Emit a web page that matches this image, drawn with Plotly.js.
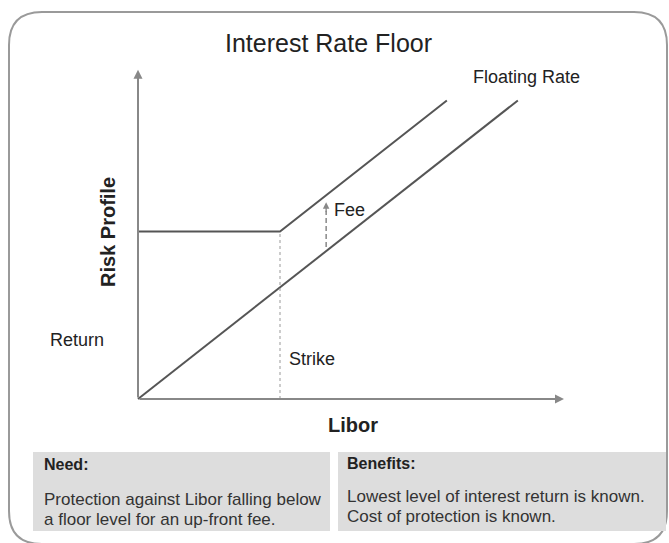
<!DOCTYPE html>
<html>
<head>
<meta charset="utf-8">
<script src="https://cdn.plot.ly/plotly-3.0.1.min.js"></script>
<style>html,body{margin:0;padding:0;background:#fff;}#chart{width:669px;height:543px;}</style>
</head>
<body>
<div id="chart"></div>
<script>
// ---- data (arbitrary units: Libor on x, rate on y) ----
const floatingLibor = [0, 10.7];
const floatingRate = [0, 10.7];
const floorLibor = [0, 4, 8.7];
const floorRate = [6, 6, 10.7];
const strikeLibor = [4, 4];
const strikeRate = [0, 6];
const feeLibor = [5.3, 5.3];
const feeRate = [5.45, 6.75];
const feeTip = 7.05;
const xAxisEnd = 12.0;
const yAxisEnd = 11.8;

// ---- pixel helpers for paper-positioned items ----
const W = 669, H = 543;
const px = x => x / W;
const py = y => 1 - y / H;
const FONT = 'Liberation Sans, Arial, sans-serif';

const lineColor = '#555555';
const axisColor = '#888888';

const traces = [
  {x: floatingLibor, y: floatingRate, mode: 'lines', line: {color: lineColor, width: 2}, hoverinfo: 'skip'},
  {x: floorLibor, y: floorRate, mode: 'lines', line: {color: lineColor, width: 2}, hoverinfo: 'skip'},
  {x: strikeLibor, y: strikeRate, mode: 'lines', line: {color: '#999999', width: 1, dash: 'dot'}, hoverinfo: 'skip'},
  {x: feeLibor, y: feeRate, mode: 'lines', line: {color: '#888888', width: 1.5, dash: '5px,3px'}, hoverinfo: 'skip'}
];

function txt(text, x, y, size, opts, color) {
  return Object.assign({
    text: text, xref: 'paper', yref: 'paper', x: px(x), y: py(y),
    xanchor: 'center', yanchor: 'middle', showarrow: false,
    font: {family: FONT, size: size, color: color || '#222222'}
  }, opts || {});
}

// rounded outer frame
const L = 9, T = 12, R = 667, B = 544, r = 33;
const frame = 'M ' + px(L + r) + ',' + py(T) +
  ' L ' + px(R - r) + ',' + py(T) +
  ' Q ' + px(R) + ',' + py(T) + ' ' + px(R) + ',' + py(T + r) +
  ' L ' + px(R) + ',' + py(B - r) +
  ' Q ' + px(R) + ',' + py(B) + ' ' + px(R - r) + ',' + py(B) +
  ' L ' + px(L + r) + ',' + py(B) +
  ' Q ' + px(L) + ',' + py(B) + ' ' + px(L) + ',' + py(B - r) +
  ' L ' + px(L) + ',' + py(T + r) +
  ' Q ' + px(L) + ',' + py(T) + ' ' + px(L + r) + ',' + py(T) + ' Z';

const shapes = [
  {type: 'path', xref: 'paper', yref: 'paper', path: frame, line: {color: '#9a9a9a', width: 2}, layer: 'below'},
  {type: 'rect', xref: 'paper', yref: 'paper', x0: px(33), x1: px(330), y0: py(452), y1: py(531), fillcolor: '#dddddd', line: {width: 0}, layer: 'below'},
  {type: 'rect', xref: 'paper', yref: 'paper', x0: px(338), x1: px(666), y0: py(452), y1: py(531), fillcolor: '#dddddd', line: {width: 0}, layer: 'below'}
];

const annotations = [
  // axes with arrows
  {x: xAxisEnd, y: 0, ax: 0, ay: 0, xref: 'x', yref: 'y', axref: 'x', ayref: 'y', showarrow: true, arrowhead: 2, arrowsize: 0.9, arrowwidth: 2, arrowcolor: axisColor, text: ''},
  {x: 0, y: yAxisEnd, ax: 0, ay: 0, xref: 'x', yref: 'y', axref: 'x', ayref: 'y', showarrow: true, arrowhead: 2, arrowsize: 0.9, arrowwidth: 2, arrowcolor: axisColor, text: ''},
  // fee arrow head
  {x: feeLibor[0], y: feeTip, ax: feeLibor[0], ay: feeRate[1] - 0.1, xref: 'x', yref: 'y', axref: 'x', ayref: 'y', showarrow: true, arrowhead: 2, arrowsize: 1, arrowwidth: 1.3, arrowcolor: '#888888', text: ''},
  txt('Interest Rate Floor', 328, 43, 25),
  txt('Floating Rate', 526, 77, 18),
  txt('Fee', 332, 210, 18, {xanchor: 'left'}),
  txt('Strike', 312, 359, 18),
  txt('Return', 77, 340, 18),
  txt('<b>Risk Profile</b>', 108, 232, 20, {textangle: -90}),
  txt('<b>Libor</b>', 353, 425, 20),
  txt('<b>Need:</b>', 42, 464, 16, {xanchor: 'left'}),
  txt('Protection against Libor falling below', 42, 499, 17, {xanchor: 'left'}, '#333333'),
  txt('a floor level for an up-front fee.', 42, 519, 17, {xanchor: 'left'}, '#333333'),
  txt('<b>Benefits:</b>', 345, 463, 16, {xanchor: 'left'}),
  txt('Lowest level of interest return is known.', 345, 496, 17, {xanchor: 'left'}, '#333333'),
  txt('Cost of protection is known.', 345, 516, 17, {xanchor: 'left'}, '#333333')
];

// pixel mapping: origin at (138,399); 35.5 px per x unit, 27.9 px per y unit
const layout = {
  width: W, height: H,
  margin: {l: 0, r: 0, t: 0, b: 0, pad: 0},
  paper_bgcolor: '#ffffff', plot_bgcolor: 'rgba(0,0,0,0)',
  showlegend: false,
  xaxis: {range: [-138 / 35.5, (W - 138) / 35.5], visible: false, fixedrange: true},
  yaxis: {range: [(399 - H) / 27.9, 399 / 27.9], visible: false, fixedrange: true},
  shapes: shapes,
  annotations: annotations,
  font: {family: FONT}
};

Plotly.newPlot('chart', traces, layout, {displayModeBar: false, staticPlot: true});
</script>
</body>
</html>
